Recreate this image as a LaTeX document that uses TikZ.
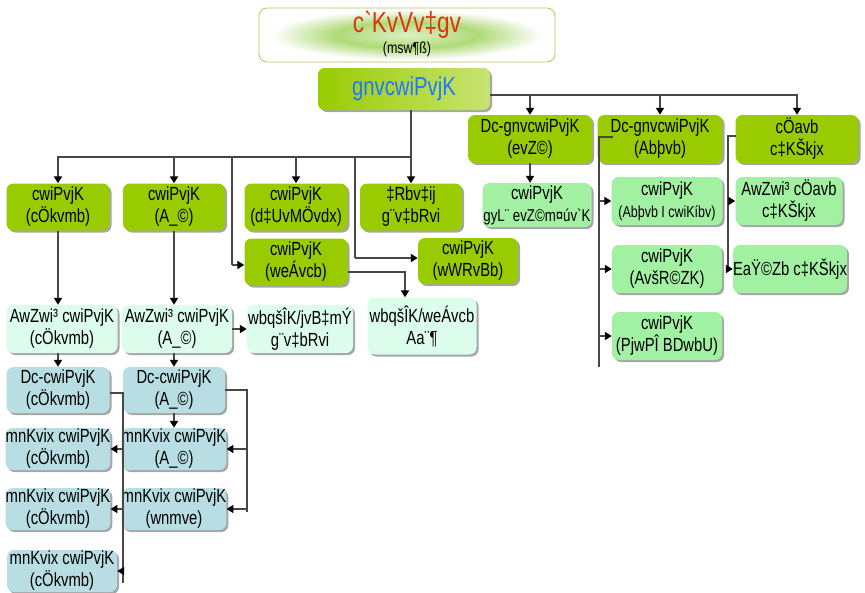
\documentclass[tikz,border=0pt]{standalone}
\usepackage{fontspec}
\newfontfamily\chartfont{Liberation Sans}[FakeStretch = 0.78]
\usetikzlibrary{arrows.meta, shadows}
\definecolor{head green}{HTML}{99CC00}
\definecolor{mint green}{HTML}{A2F0A2}
\definecolor{pale mint}{HTML}{DCFCEC}
\definecolor{pale blue}{HTML}{B8DEE3}
\definecolor{title red}{HTML}{DD3311}
\definecolor{title blue}{HTML}{1F78FF}
\definecolor{title rim}{HTML}{B2C85A}
\definecolor{glowinner}{HTML}{DDF0C4}
\definecolor{glowmid}{HTML}{AFDA78}
\pgfdeclareradialshading{title glow}{\pgfpoint{0bp}{0bp}}{color(0bp)=(glowinner);color(12bp)=(glowmid);color(23bp)=(white);color(50bp)=(white)}
\tikzset{
	org chart/.is family,
	org chart/.cd,
	box/.style = {
		rounded corners = 7pt,
		draw = none,
		align = center,
		inner sep = 0pt,
		minimum width = 103pt,
		minimum height = 47pt,
		font = {\fontsize{19}{22}\chartfont},
		drop shadow = {shadow xshift = 2pt, shadow yshift = -2pt, fill = black, opacity = 0.35},
	},
	head/.style = {org chart/box, fill = head green},
	branch/.style = {org chart/box, fill = mint green},
	extra/.style = {org chart/box, fill = pale mint},
	deputy/.style = {org chart/box, fill = pale blue, minimum height = 46pt},
	assistant/.style = {org chart/box, fill = pale blue, minimum height = 42pt, minimum width = 102pt},
	wire/.style = {
		draw = black!72,
		line width = 2pt,
	},
	connector/.style = {
		org chart/wire,
		-{Triangle[length = 7pt, width = 8pt, color = black]},
	},
}
\begin{document}
\begin{tikzpicture}[x = 1pt, y = -1pt]
	\useasboundingbox (0, 0) rectangle (865, 592);

	\node[shading = title glow, draw = title rim, line width = 0.8pt, rounded corners = 8pt,
		minimum width = 296pt, minimum height = 54pt] (title) at (407, 35) {};
	\node[text = title red, font = {\fontsize{29}{31}\chartfont}, inner sep = 0pt] (title text) at (407, 25) {c\symbol{96}KvVv‡gv};
	\node[font = {\fontsize{16}{18}\chartfont}, inner sep = 0pt] (title sub) at (407, 49) {(msw¶ß)};

	\node[org chart/head, left color = head green, right color = head green!55!white,
		minimum width = 172pt, minimum height = 42pt, text = title blue, font = {\fontsize{26}{28}\chartfont}]
		(main) at (404, 89) {gnvcwiPvjK};

	\node[org chart/head] (A) at (58, 207) {cwiPvjK\\(cÖkvmb)};
	\node[org chart/head, minimum width = 102pt] (B) at (174, 207) {cwiPvjK\\(A\_©)};
	\node[org chart/head] (C) at (296, 207) {cwiPvjK\\(d‡UvMÖvdx)};
	\node[org chart/head, minimum width = 102pt] (D) at (411, 207) {‡Rbv‡ij\\g¨v‡bRvi};
	\node[org chart/head] (E) at (296, 262) {cwiPvjK\\(weÁvcb)};
	\node[org chart/head, minimum width = 100pt, minimum height = 46pt] (F) at (468, 261) {cwiPvjK\\(wWRvBb)};
	\node[org chart/extra, minimum width = 109pt, minimum height = 57pt] (G) at (422, 326) {wbqšÎK/weÁvcb\\Aa¨¶};

	\node[org chart/head, minimum width = 124pt, minimum height = 48pt] (H) at (530, 139) {Dc-gnvcwiPvjK\\(evZ©)};
	\node[org chart/head, minimum width = 125pt, minimum height = 48pt] (I) at (660, 139) {Dc-gnvcwiPvjK\\(Abþvb)};
	\node[org chart/head, minimum width = 123pt, minimum height = 48pt] (J) at (797, 139) {cÖavb\\c‡KŠkjx};

	\node[org chart/branch, minimum width = 109pt, minimum height = 44pt] (K) at (537, 205)
		{cwiPvjK\\{\fontsize{17}{22}\chartfont gyL¨ evZ©m¤úv\symbol{96}K}};
	\node[org chart/branch, minimum width = 111pt, minimum height = 48pt] (L) at (667, 201)
		{cwiPvjK\\{\fontsize{16}{22}\chartfont(Abþvb I cwiKíbv)}};
	\node[org chart/branch, minimum width = 110pt, minimum height = 48pt] (M) at (667, 269) {cwiPvjK\\(AvšR©ZK)};
	\node[org chart/branch, minimum width = 110pt, minimum height = 48pt] (N) at (667, 336) {cwiPvjK\\(PjwPÎ BDwbU)};
	\node[org chart/branch, minimum width = 107pt, minimum height = 48pt] (O) at (789, 201) {AwZwi³ cÖavb\\c‡KŠkjx};
	\node[org chart/branch, minimum width = 109pt, minimum height = 48pt] (P) at (790, 269) {EaŸ©Zb c‡KŠkjx};

	\node[org chart/extra, minimum width = 111pt, minimum height = 48pt] (Q) at (62, 329) {AwZwi³ cwiPvjK\\(cÖkvmb)};
	\node[org chart/extra, minimum width = 110pt, minimum height = 48pt] (R) at (177, 329) {AwZwi³ cwiPvjK\\(A\_©)};
	\node[org chart/extra, minimum width = 106pt, minimum height = 48pt] (S) at (300, 329) {wbqšÎK/jvB‡mÝ\\g¨v‡bRvi};

	\node[org chart/deputy] (T) at (58, 390) {Dc-cwiPvjK\\(cÖkvmb)};
	\node[org chart/deputy, minimum width = 102pt] (U) at (174, 390) {Dc-cwiPvjK\\(A\_©)};
	\node[org chart/assistant] (V1) at (58, 449) {mnKvix cwiPvjK\\(cÖkvmb)};
	\node[org chart/assistant, minimum width = 100pt] (W1) at (174, 449) {mnKvix cwiPvjK\\(A\_©)};
	\node[org chart/assistant] (V2) at (58, 509) {mnKvix cwiPvjK\\(cÖkvmb)};
	\node[org chart/assistant, minimum width = 100pt] (W2) at (174, 509) {mnKvix cwiPvjK\\(wnmve)};
	\node[org chart/assistant, minimum width = 110pt] (V3) at (62, 571) {mnKvix cwiPvjK\\(cÖkvmb)};

	\coordinate (hub) at (411, 157);
	\coordinate (E turn) at (232, 265);
	\coordinate (F turn) at (355, 258);
	\coordinate (I stub) at (613, 137);
	\coordinate (I spine) at (599, 367);
	\coordinate (J stub) at (736, 136);
	\coordinate (J spine) at (728, 269);
	\coordinate (T spine) at (123, 583);
	\coordinate (U spine) at (247, 512);

	\draw[org chart/connector] (main.south -| hub) -- (D.north);
	\foreach \n in {A, B, C}
		\draw[org chart/connector] (hub) -| (\n.north);
	\draw[org chart/wire] (hub) -| (E turn);
	\draw[org chart/connector] (E turn) -- (E turn -| E.west);
	\draw[org chart/wire] (hub) -| (F turn);
	\draw[org chart/connector] (F turn) -- (F turn -| F.west);
	\draw[org chart/connector] ([yshift = -10pt]E.east) -| ([xshift = -17pt]G.north);

	\foreach \n in {H, I, J}
		\draw[org chart/connector] ([yshift = -6pt]main.east) -| (\n.north);
	\draw[org chart/connector] (H.south) -- (H.south |- K.north);
	\draw[org chart/wire] (I stub) -| (I spine);
	\foreach \n in {L, M, N}
		\draw[org chart/connector] (I spine |- \n.west) -- (\n.west);
	\draw[org chart/wire] (J stub) -| (J spine);
	\foreach \n in {O, P}
		\draw[org chart/connector] (J spine |- \n.west) -- (\n.west);

	\draw[org chart/connector] (A.south) -- (A.south |- Q.north);
	\draw[org chart/connector] (Q.south -| T.north) -- (T.north);
	\draw[org chart/connector] (B.south) -- (B.south |- R.north);
	\draw[org chart/connector] (R.south -| U.north) -- (U.north);
	\draw[org chart/connector] (R.east) -- (S.west);
	\draw[org chart/connector] (U.south) -- (W1.north);

	\draw[org chart/wire] ([yshift = -3pt]T.east) -| (T spine);
	\foreach \n in {V1, V2, V3}
		\draw[org chart/connector] (T spine |- \n.east) -- (\n.east);
	\draw[org chart/wire] (U.east) -| (U spine);
	\foreach \n in {W1, W2}
		\draw[org chart/connector] (U spine |- \n.east) -- (\n.east);
\end{tikzpicture}
\end{document}
